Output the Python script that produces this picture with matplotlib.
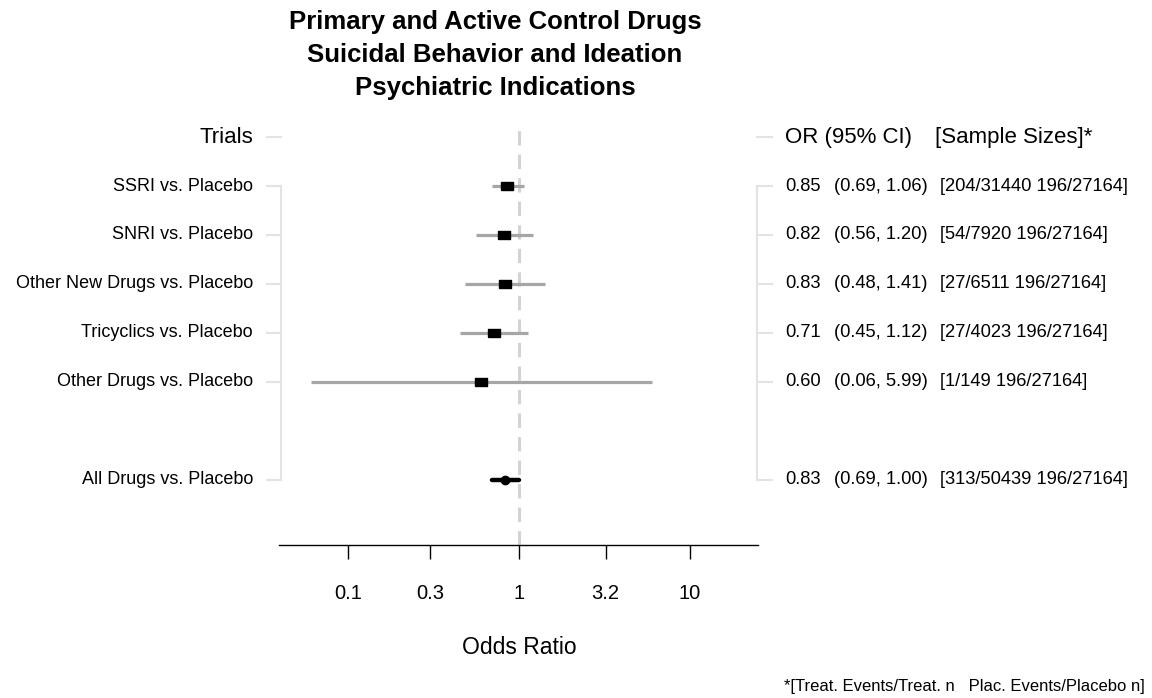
import matplotlib
matplotlib.use("Agg")
import matplotlib.pyplot as plt
from matplotlib.transforms import blended_transform_factory

plt.rcParams['font.family'] = ['Liberation Sans', 'DejaVu Sans']

# Odds ratios with 95% CIs by comparison
trials = ['SSRI vs. Placebo', 'SNRI vs. Placebo', 'Other New Drugs vs. Placebo',
          'Tricyclics vs. Placebo', 'Other Drugs vs. Placebo', 'All Drugs vs. Placebo']
odds_ratio = [0.85, 0.82, 0.83, 0.71, 0.60, 0.83]
ci_low = [0.69, 0.56, 0.48, 0.45, 0.06, 0.69]
ci_high = [1.06, 1.20, 1.41, 1.12, 5.99, 1.00]
treat_events = [204, 54, 27, 27, 1, 313]
treat_n = [31440, 7920, 6511, 4023, 149, 50439]
plac_events = [196, 196, 196, 196, 196, 196]
plac_n = [27164, 27164, 27164, 27164, 27164, 27164]

x_ticks = [0.1, 0.3, 1, 3.2, 10]
x_tick_labels = ['0.1', '0.3', '1', '3.2', '10']

title_lines = ['Primary and Active Control Drugs',
               'Suicidal Behavior and Ideation',
               'Psychiatric Indications']

# row slots: 0 is the header, a blank slot before the pooled row
row_pos = [1, 2, 3, 4, 5, 7]

W, H = 1152, 698


def fx(px):
    return px / W


def fy(py):
    return 1 - py / H


fig = plt.figure(figsize=(W / 100, H / 100), dpi=100)
ax = fig.add_axes([fx(279.3), fy(545), fx(758.3) - fx(279.3), fy(130) - fy(545)])
ax.set_xscale('log')
ax.set_xlim(0.0394, 25.1)
ax.set_ylim(8.327, -0.143)

for s in ['left', 'right', 'top']:
    ax.spines[s].set_visible(False)
ax.spines['bottom'].set_linewidth(1.0)
ax.set_yticks([])
ax.set_xticks(x_ticks)
ax.set_xticklabels(x_tick_labels)
ax.minorticks_off()
ax.tick_params(axis='x', length=10, width=1.0, pad=18, labelsize=14.5)

# reference line at OR = 1
ax.axvline(1, color='#D3D3D3', lw=2.2, ls=(0, (4.7, 3.0)), zorder=0)

# individual comparisons
box = [(-1, -0.75), (1, -0.75), (1, 0.75), (-1, 0.75), (-1, -0.75)]
n_ind = len(trials) - 1
ax.hlines(row_pos[:n_ind], ci_low[:n_ind], ci_high[:n_ind], color='#A6A6A6', lw=2.3, zorder=2)
ax.plot(odds_ratio[:n_ind], row_pos[:n_ind], ls='none', marker=box, ms=8.5,
        color='black', zorder=3)

# pooled estimate
ax.hlines(row_pos[-1], ci_low[-1], ci_high[-1], color='black', lw=3.2, zorder=2,
          capstyle='round')
ax.plot(odds_ratio[-1], row_pos[-1], ls='none', marker='o', ms=6, color='black', zorder=3)

tr = blended_transform_factory(fig.transFigure, ax.transData)
side_col = '#E3E3E3'

# bracket on the left
ax.plot([fx(281), fx(281)], [row_pos[0], row_pos[-1]], color=side_col, lw=1.5,
        transform=tr, clip_on=False)
for y in [0] + row_pos:
    ax.plot([fx(267), fx(281)], [y, y], color=side_col, lw=1.5, transform=tr, clip_on=False)

# bracket on the right
ax.plot([fx(757), fx(757)], [row_pos[0], row_pos[-1]], color=side_col, lw=1.5,
        transform=tr, clip_on=False)
for y in [0] + row_pos:
    ax.plot([fx(757), fx(772)], [y, y], color=side_col, lw=1.5, transform=tr, clip_on=False)

# column headers
ax.text(fx(253), 0, 'Trials', transform=tr, ha='right', va='center', fontsize=16)
ax.text(fx(785), 0, 'OR (95% CI)', transform=tr, ha='left', va='center', fontsize=16)
ax.text(fx(935), 0, '[Sample Sizes]*', transform=tr, ha='left', va='center', fontsize=16)

for i, y in enumerate(row_pos):
    ax.text(fx(253), y, trials[i], transform=tr, ha='right', va='center', fontsize=13)
    ax.text(fx(785), y, f'{odds_ratio[i]:.2f}', transform=tr, ha='left', va='center',
            fontsize=13.2)
    ax.text(fx(834), y, f'({ci_low[i]:.2f}, {ci_high[i]:.2f})', transform=tr, ha='left',
            va='center', fontsize=13.2)
    ax.text(fx(940), y, f'[{treat_events[i]}/{treat_n[i]} {plac_events[i]}/{plac_n[i]}]',
            transform=tr, ha='left', va='center', fontsize=13.2)

for k, line in enumerate(title_lines):
    fig.text(fx(495), fy(22.5 + 33 * k), line, ha='center', va='center', fontsize=18.5,
             fontweight='bold')

fig.text(fx(519), fy(647), 'Odds Ratio', ha='center', va='center', fontsize=16.5)
fig.text(fx(1145), fy(686), '*[Treat. Events/Treat. n   Plac. Events/Placebo n]',
         ha='right', va='center', fontsize=12)

fig.savefig('out.png', dpi=100, facecolor='white')
